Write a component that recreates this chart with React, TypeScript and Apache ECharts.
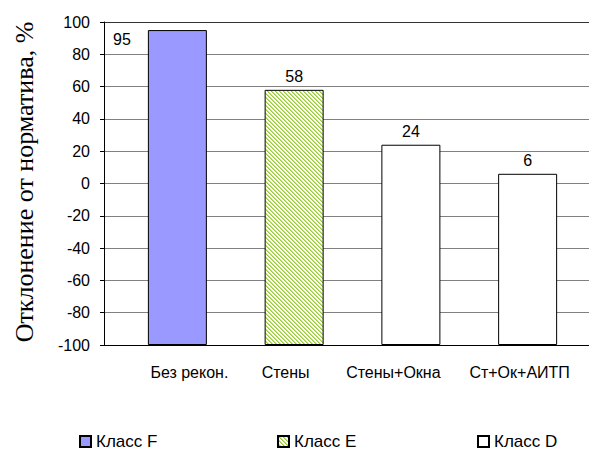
import React, { useEffect, useRef } from "react";
import * as echarts from "echarts";

const categories = ["Без рекон.", "Стены", "Стены+Окна", "Ст+Ок+АИТП"];
const seriesNames = ["Класс F", "Класс E", "Класс D"];
const classF = [95, "-", "-", "-"];
const classE = ["-", 58, "-", "-"];
const classD = ["-", "-", 24, 6];
const yTicks = { min: -100, max: 100, interval: 20 };

function makeHatch(): HTMLCanvasElement {
  const c = document.createElement("canvas");
  c.width = 4;
  c.height = 4;
  const ctx = c.getContext("2d")!;
  ctx.fillStyle = "#ffffff";
  ctx.fillRect(0, 0, 4, 4);
  for (let x = 0; x < 4; x++) {
    for (let y = 0; y < 4; y++) {
      const d = (((x - y) % 4) + 4) % 4;
      if (d === 0) {
        ctx.fillStyle = "#99cc33";
        ctx.fillRect(x, y, 1, 1);
      } else if (d === 1) {
        ctx.fillStyle = "#c6e28a";
        ctx.fillRect(x, y, 1, 1);
      }
    }
  }
  return c;
}

export default function App() {
  const ref = useRef<HTMLDivElement>(null);
  useEffect(() => {
    if (!ref.current) return;
    const chart = echarts.init(ref.current, null, { renderer: "svg" });
    const font = "Liberation Sans, Arial, sans-serif";
    const hatch = { image: makeHatch(), repeat: "repeat" } as any;
    const base = yTicks.min;
    const shift = (arr: (number | string)[]) =>
      arr.map((v) => (v === "-" ? v : (v as number) - base));
    const splitColors: string[] = [];
    for (let i = 0; i < 10; i++) splitColors.push("#808080");
    splitColors.push("#333333");
    const labelPads = [
      [0, 0, 0, 24],
      [0, 17, 0, 0],
      [0, 35, 0, 0],
      [0, 16, 0, 0],
    ];
    const barLabel = {
      show: true,
      position: "top",
      distance: 5,
      color: "#000",
      fontFamily: font,
      fontSize: 16,
      formatter: (p: any) => String(p.value + base),
    };
    const itemBorder = { borderColor: "#000", borderWidth: 1 };
    const legendBase = (name: string, left: number) => ({
      data: [name],
      left,
      top: 428,
      orient: "horizontal",
      icon: "rect",
      itemWidth: 11,
      itemHeight: 11,
      textStyle: { fontFamily: font, fontSize: 17, color: "#000" },
      selectedMode: false,
    });
    const fData = shift(classF).map((v) =>
      v === "-"
        ? v
        : {
            value: v,
            label: {
              position: [-26, 9],
              align: "center",
              verticalAlign: "middle",
            },
          }
    );
    chart.setOption({
      animation: false,
      backgroundColor: "#fff",
      grid: [
        { left: 104, right: 0, top: 22, bottom: 107 },
        { left: 119, right: 3, top: 22, bottom: 107 },
      ],
      xAxis: [
        {
          gridIndex: 0,
          type: "value",
          min: 0,
          max: 1,
          axisLabel: { show: false },
          axisTick: { show: false },
          splitLine: { show: false },
          axisLine: { show: true, onZero: false, lineStyle: { color: "#000", width: 1 } },
        },
        {
          gridIndex: 1,
          type: "category",
          data: categories.map((c, i) => ({
            value: c,
            textStyle: { padding: labelPads[i] },
          })),
          axisLine: { show: false },
          axisTick: { show: false },
          axisLabel: {
            interval: 0,
            hideOverlap: false,
            color: "#000",
            fontFamily: font,
            fontSize: 16,
            margin: 19,
          },
        },
      ],
      yAxis: [
        {
          gridIndex: 0,
          type: "value",
          min: yTicks.min,
          max: yTicks.max,
          interval: yTicks.interval,
          axisLine: { show: true, onZero: false, lineStyle: { color: "#000", width: 1 } },
          axisTick: { show: true, length: 4, lineStyle: { color: "#000" } },
          axisLabel: { color: "#000", fontFamily: font, fontSize: 16, margin: 14 },
          splitLine: { show: true, lineStyle: { color: splitColors, width: 1 } },
        },
        {
          gridIndex: 1,
          type: "value",
          min: 0,
          max: yTicks.max - yTicks.min,
          interval: yTicks.interval,
          show: false,
          splitLine: { show: false },
        },
      ],
      legend: [
        legendBase(seriesNames[0], 74),
        legendBase(seriesNames[1], 272),
        legendBase(seriesNames[2], 472),
      ],
      series: [
        {
          name: seriesNames[0],
          type: "bar",
          xAxisIndex: 1,
          yAxisIndex: 1,
          barWidth: 59,
          barGap: "-100%",
          data: fData,
          itemStyle: { color: "#9999ff", ...itemBorder },
          label: barLabel,
        },
        {
          name: seriesNames[1],
          type: "bar",
          xAxisIndex: 1,
          yAxisIndex: 1,
          barWidth: 59,
          barGap: "-100%",
          data: shift(classE),
          itemStyle: { color: hatch, ...itemBorder },
          label: barLabel,
        },
        {
          name: seriesNames[2],
          type: "bar",
          xAxisIndex: 1,
          yAxisIndex: 1,
          barWidth: 59,
          barGap: "-100%",
          data: shift(classD),
          itemStyle: { color: "#ffffff", ...itemBorder },
          label: barLabel,
        },
      ],
      graphic: [
        {
          type: "text",
          x: 24,
          y: 182,
          rotation: Math.PI / 2,
          style: {
            text: "Отклонение от норматива, %",
            font: "26px 'Liberation Serif', 'Times New Roman', serif",
            fill: "#000",
            align: "center",
            verticalAlign: "middle",
          },
        },
      ],
    });
    return () => chart.dispose();
  }, []);
  return <div ref={ref} style={{ width: 589, height: 452, position: "absolute", left: 0, top: 0 }} />;
}
